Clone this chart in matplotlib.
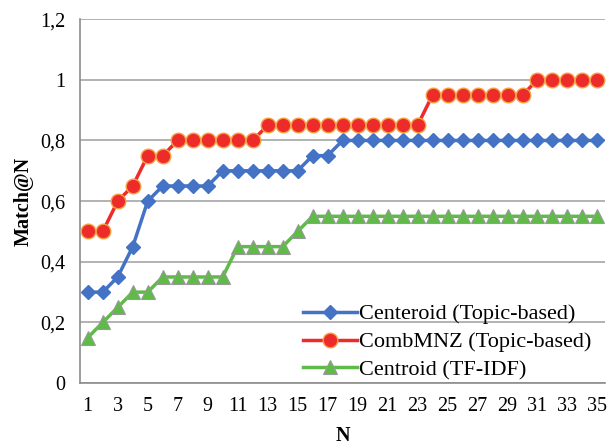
import matplotlib
matplotlib.use("Agg")
import matplotlib.pyplot as plt

# Match@N values
n_values = list(range(1, 36))
centeroid_topic = [0.3, 0.3, 0.35, 0.45, 0.6, 0.65, 0.65, 0.65, 0.65, 0.7,
                   0.7, 0.7, 0.7, 0.7, 0.7, 0.75, 0.75, 0.8, 0.8, 0.8,
                   0.8, 0.8, 0.8, 0.8, 0.8, 0.8, 0.8, 0.8, 0.8, 0.8,
                   0.8, 0.8, 0.8, 0.8, 0.8]
combmnz_topic = [0.5, 0.5, 0.6, 0.65, 0.75, 0.75, 0.8, 0.8, 0.8, 0.8,
                 0.8, 0.8, 0.85, 0.85, 0.85, 0.85, 0.85, 0.85, 0.85, 0.85,
                 0.85, 0.85, 0.85, 0.95, 0.95, 0.95, 0.95, 0.95, 0.95, 0.95,
                 1.0, 1.0, 1.0, 1.0, 1.0]
centroid_tfidf = [0.15, 0.2, 0.25, 0.3, 0.3, 0.35, 0.35, 0.35, 0.35, 0.35,
                  0.45, 0.45, 0.45, 0.45, 0.5, 0.55, 0.55, 0.55, 0.55, 0.55,
                  0.55, 0.55, 0.55, 0.55, 0.55, 0.55, 0.55, 0.55, 0.55, 0.55,
                  0.55, 0.55, 0.55, 0.55, 0.55]
y_ticks = [0, 0.2, 0.4, 0.6, 0.8, 1.0, 1.2]
y_tick_labels = ["0", "0,2", "0,4", "0,6", "0,8", "1", "1,2"]

plt.rcParams['font.family'] = ['Liberation Serif', 'DejaVu Serif']

fig = plt.figure(figsize=(6.08, 4.45), dpi=100)
ax = fig.add_axes([0.132, 0.139, 0.863, 0.818])

ax.plot(n_values, centeroid_topic, color='#4472C4', linewidth=2.5, marker='D',
        markersize=7.5, markeredgecolor='#4472C4', label='Centeroid (Topic-based)', zorder=3)
ax.plot(n_values, combmnz_topic, color='#EE2B2B', linewidth=2.5, marker='o',
        markersize=10.5, markeredgecolor='#F5A040', markeredgewidth=1.0,
        label='CombMNZ (Topic-based)', zorder=3)
ax.plot(n_values, centroid_tfidf, color='#5DBB46', linewidth=2.5, marker='^',
        markersize=9.5, markeredgecolor='#999999', markeredgewidth=0.8,
        label='Centroid (TF-IDF)', zorder=3)

ax.set_xlim(0.5, 35.5)
ax.set_ylim(0, 1.2)
ax.set_xticks(n_values[::2])
ax.set_yticks(y_ticks)
ax.set_yticklabels(y_tick_labels)
ax.tick_params(axis='both', length=0, labelsize=14.5)
ax.tick_params(axis='x', pad=10)
ax.tick_params(axis='y', pad=11)
ax.grid(axis='y', color='#A6A6A6', linewidth=1.2)
ax.set_axisbelow(True)

for side in ['top', 'right']:
    ax.spines[side].set_visible(False)
for side in ['left', 'bottom']:
    ax.spines[side].set_color('#8C8C8C')
    ax.spines[side].set_linewidth(1.2)

ax.set_xlabel('N', fontsize=14.5, fontweight='bold', labelpad=7)
ax.set_ylabel('Match@N', fontsize=14.5, fontweight='bold', labelpad=4)

ax.legend(loc='lower left', frameon=False, fontsize=16, handlelength=2.4,
          handletextpad=0.12, labelspacing=0.33, borderpad=0, borderaxespad=0,
          bbox_to_anchor=(0.425, 0.008))

fig.savefig('out.png', dpi=100)
